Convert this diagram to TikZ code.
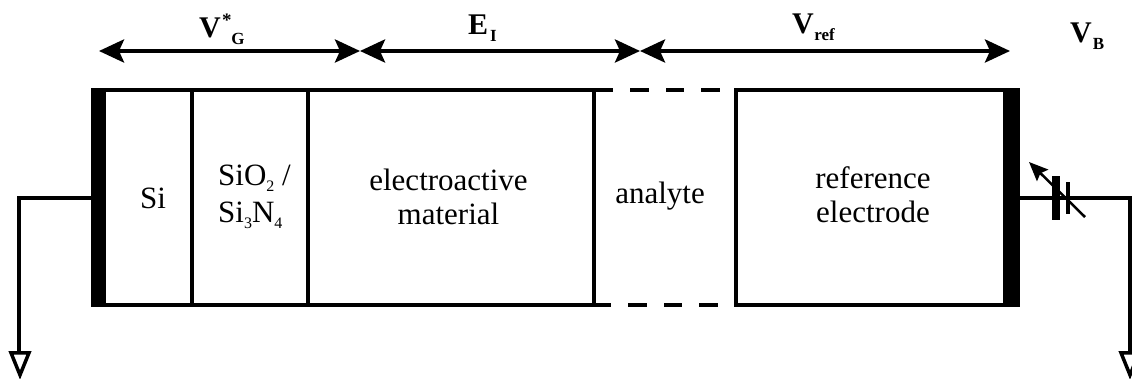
\documentclass[tikz,border=0pt]{standalone}
\usepackage{fontspec}
\setmainfont{Liberation Serif}
\usetikzlibrary{arrows.meta}
\newcommand{\subsz}[1]{\raisebox{-6pt}{\fontsize{16}{16}\selectfont #1}}
% bold main letter, kern, subscript
\newcommand{\bigbold}[3]{{\bfseries\fontsize{30}{30}\selectfont #1\hspace{#2}\raisebox{-7pt}{\fontsize{17}{17}\selectfont #3}}}
\tikzset{
  x=1pt,y=-1pt,
  wire/.style={line width=4pt,line cap=butt},
  thin wire/.style={line width=3.5pt},
  plate/.style={fill=black,draw=none,inner sep=0pt,outer sep=0pt,minimum width=#1},
  span/.style={line width=4pt,{Stealth[length=25pt,width=23pt,inset=5pt]}-{Stealth[length=25pt,width=23pt,inset=5pt]}},
  lab/.style={inner sep=0pt,align=center,font=\fontsize{31}{34}\selectfont},
  head/.style={inner sep=0pt,anchor=base west},
  gnd/.style={line width=3.5pt,fill=white,miter limit=10},
}
\begin{document}
\begin{tikzpicture}
\useasboundingbox (0,0) rectangle (1132,379);
% electrode plates
\node[plate=15pt,minimum height=219pt] (lbar) at (98.5,197.5) {};
\node[plate=17pt,minimum height=219pt] (rbar) at (1011.5,197.5) {};
% anchors of the layers
\coordinate (t1) at (106,90);  \coordinate (b1) at (106,305);
\coordinate (tA) at (191.5,90); \coordinate (bA) at (191.5,305);
\coordinate (tB) at (307.5,90); \coordinate (bB) at (307.5,305);
\coordinate (tC) at (593.5,90); \coordinate (bC) at (593.5,305);
\coordinate (tD) at (736,90);   \coordinate (bD) at (736,305);
\coordinate (t2) at (1003,90);  \coordinate (b2) at (1003,305);
% body outline
\draw[wire] (t1) -- (tC) -- ++(19.5,0);
\draw[wire] (b1) -- (bC) -- ++(17,0);
\draw[wire] (734,90) -- (t2);
\draw[wire] (734,305) -- (b2);
\draw[wire] (tA) -- (bA);
\draw[wire] (tB) -- (bB);
\draw[wire] (tC) -- (bC);
\draw[wire] (tD) -- (bD);
% dashes
\draw[wire] (630,90) -- (649,90) (666,90) -- (684,90) (701,90) -- (720,90);
\draw[wire] (628,305) -- (647,305) (664,305) -- (682,305) (699,305) -- (718,305);
% spans
\coordinate (s0) at (99,51);
\coordinate (s1) at (360,51);
\coordinate (s2) at (640,51);
\coordinate (s3) at (1010,51);
\draw[span] (s0) -- (s1);
\draw[span] (s1) -- (s2);
\draw[span] (s2) -- (s3);
% left ground
\coordinate (lc) at (19,198);
\coordinate (lg) at (19,352);
\draw[thin wire] (lbar.west |- lc) -- (lc) -- (lg);
\draw[gnd] (11,352.8) -- (29,352.8) -- (20,375) -- cycle;
% battery
\node[plate=8pt,minimum height=44pt] (p1) at (1056,198) {};
\node[plate=4pt,minimum height=32pt] (p2) at (1068,198) {};
\coordinate (rc) at (1130,198);
\coordinate (rg) at (1130,352);
\draw[thin wire] (rbar.east |- p1) -- (p1);
\draw[thin wire] (p1) -- (p2);
\draw[thin wire] (p2) -- (rc) -- (rg);
\draw[gnd] (1121,352.8) -- (1139,352.8) -- (1130,375) -- cycle;
\coordinate (va) at (1085,217);
\coordinate (vb) at (1029,162);
\draw[line width=2.5pt,-{Stealth[length=19pt,width=16pt,inset=3pt]}] (va) -- (vb);
% texts
\node[lab] (si) at (153,198) {Si};
\node[lab,align=left,anchor=west] (ox) at (218,197) {SiO\subsz{2} /\\[3pt]Si\subsz{3}N\subsz{4}};
\node[lab] (em) at (448.5,196.5) {electroactive\\material};
\node[lab] (an) at (660,196) {analyte};
\node[lab] (re) at (873,194.5) {reference\\electrode};
\node[head] (vg) at (199,38) {\bigbold{V}{10.5pt}{G}};
\node[head] (star) at (222,27) {\bfseries\fontsize{19}{19}\selectfont *};
\node[head] (ei) at (468,35) {\bigbold{E}{2pt}{I}};
\node[head] (vr) at (792,34) {\bigbold{V}{0.5pt}{ref}};
\node[head] (vbt) at (1070,43) {\bigbold{V}{1pt}{B}};
\end{tikzpicture}
\end{document}
